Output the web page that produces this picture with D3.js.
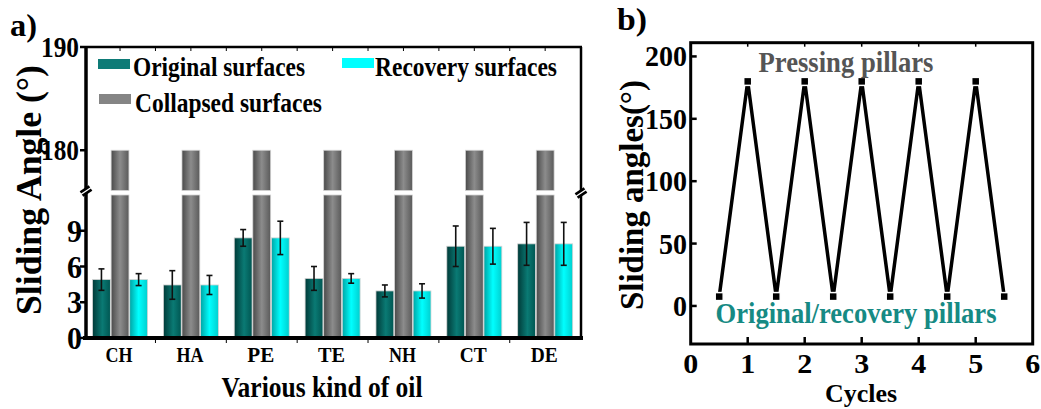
<!DOCTYPE html>
<html>
<head>
<meta charset="utf-8">
<script src="https://cdn.jsdelivr.net/npm/d3@7"></script>
<style>
  body { margin: 0; background: #fff; }
</style>
</head>
<body>
<svg id="chart" width="1041" height="409"></svg>
<script>
"use strict";

// ---- data (panel a) ----
const oils = ["CH", "HA", "PE", "TE", "NH", "CT", "DE"];
const originalMean = [4.9, 4.45, 8.4, 5.0, 3.95, 7.7, 7.9];
const originalErr = [0.9, 1.2, 0.7, 1.0, 0.5, 1.7, 1.8];
const collapsedMean = [180, 180, 180, 180, 180, 180, 180];
const recoveryMean = [4.9, 4.45, 8.4, 5.0, 3.95, 7.7, 7.9];
const recoveryErr = [0.5, 0.8, 1.4, 0.4, 0.6, 1.5, 1.8];
const lowTicks = [0, 3, 6, 9];
const highTicks = [180, 190];

// ---- data (panel b) ----
const cycleX = [0.5, 1, 1.5, 2, 2.5, 3, 3.5, 4, 4.5, 5, 5.5];
const cycleAngle = [7.5, 180, 7.5, 180, 7.5, 180, 7.5, 180, 7.5, 180, 7.5];
const cycleXTicks = [0, 1, 2, 3, 4, 5, 6];
const cycleYTicks = [0, 50, 100, 150, 200];

const FONT = "'Liberation Serif', 'Times New Roman', Tinos, 'DejaVu Serif', serif";
const svg = d3.select("#chart");

// text helper: fixed width through textLength (the picture is a bit squeezed)
function txt(g, s, x, y, size, width, anchor, fill, rotate) {
  const t = g.append("text")
    .attr("font-family", FONT)
    .attr("font-weight", "bold")
    .attr("font-size", size)
    .attr("text-anchor", anchor || "start")
    .attr("fill", fill || "#000")
    .text(s);
  if (rotate) {
    t.attr("transform", "translate(" + x + "," + y + ") rotate(" + rotate + ")");
  } else {
    t.attr("x", x).attr("y", y);
  }
  if (width) t.attr("textLength", width).attr("lengthAdjust", "spacingAndGlyphs");
  return t;
}

// gradients for the bars
const defs = svg.append("defs");
function grad(id, stops) {
  const lg = defs.append("linearGradient").attr("id", id)
    .attr("x1", "0%").attr("x2", "100%").attr("y1", "0%").attr("y2", "0%");
  stops.forEach(function(s) {
    lg.append("stop").attr("offset", s[0]).attr("stop-color", s[1]);
  });
}
grad("gTeal", [["0%", "#003a38"], ["55%", "#0a7a74"], ["100%", "#005652"]]);
grad("gGray", [["0%", "#4a4a4a"], ["50%", "#8c8c8c"], ["100%", "#5a5a5a"]]);
grad("gCyan", [["0%", "#00a4a4"], ["50%", "#00ffff"], ["100%", "#00cfcf"]]);

const series = [
  { key: "original", label: "Original surfaces", values: originalMean, err: originalErr, fill: "url(#gTeal)", swatch: "#0e7b77" },
  { key: "collapsed", label: "Collapsed surfaces", values: collapsedMean, err: null, fill: "url(#gGray)", swatch: "#858585" },
  { key: "recovery", label: "Recovery surfaces", values: recoveryMean, err: recoveryErr, fill: "url(#gCyan)", swatch: "#00ffff" }
];

// ================= panel a =================
const a = svg.append("g");
const aLeft = 86, aRight = 581, aTop = 47, aBottom = 338;

const x = d3.scaleBand().domain(oils).range([84.6, 580.6]);
const xs = d3.scaleBand().domain(series.map(function(s) { return s.key; }))
  .range([-27.5, 27.5]).paddingInner(0.04);
const yLow = d3.scaleLinear().domain([0, 12]).range([aBottom, 195]);
const yHigh = d3.scaleLinear().domain([176.1, 190]).range([190.5, aTop]);

function yOf(v) { return v > yLow.domain()[1] ? yHigh(v) : yLow(v); }

series.forEach(function(s) {
  const g = a.append("g").attr("class", "bars-" + s.key);
  oils.forEach(function(o, i) {
    const v = s.values[i];
    const bx = x(o) + x.bandwidth() / 2 + xs(s.key);
    const lowTop = yLow(Math.min(v, yLow.domain()[1]));
    g.append("rect")
      .attr("x", bx).attr("y", lowTop)
      .attr("width", xs.bandwidth()).attr("height", yLow(0) - lowTop)
      .attr("fill", s.fill).attr("stroke", "#d4d4d4").attr("stroke-width", 0.8);
    if (v > yLow.domain()[1]) {
      g.append("rect")
        .attr("x", bx).attr("y", yHigh(v))
        .attr("width", xs.bandwidth()).attr("height", yHigh(yHigh.domain()[0]) - yHigh(v))
        .attr("fill", s.fill).attr("stroke", "#d4d4d4").attr("stroke-width", 0.8);
    }
    if (s.err) {
      const cx = bx + xs.bandwidth() / 2;
      const e = s.err[i];
      g.append("line").attr("x1", cx).attr("x2", cx)
        .attr("y1", yOf(v + e)).attr("y2", yOf(v - e))
        .attr("stroke", "#111").attr("stroke-width", 1.6);
      [v + e, v - e].forEach(function(w) {
        g.append("line").attr("x1", cx - 3).attr("x2", cx + 3)
          .attr("y1", yOf(w)).attr("y2", yOf(w))
          .attr("stroke", "#111").attr("stroke-width", 1.6);
      });
    }
  });
});

// frame
a.append("line").attr("x1", aLeft).attr("x2", aRight + 1).attr("y1", aTop).attr("y2", aTop)
  .attr("stroke", "#000").attr("stroke-width", 2.5);
a.append("line").attr("x1", aRight).attr("x2", aRight).attr("y1", aTop).attr("y2", aBottom)
  .attr("stroke", "#000").attr("stroke-width", 2.5);
a.append("line").attr("x1", aLeft).attr("x2", aLeft).attr("y1", aTop - 1).attr("y2", aBottom)
  .attr("stroke", "#000").attr("stroke-width", 3.5);
a.append("line").attr("x1", aLeft - 3).attr("x2", aRight + 2).attr("y1", aBottom).attr("y2", aBottom)
  .attr("stroke", "#000").attr("stroke-width", 4);

// top minor ticks (every half band) and bottom ticks on band edges
d3.range(1, oils.length * 2).forEach(function(k) {
  const tx = x.range()[0] + k * x.bandwidth() / 2;
  a.append("line").attr("x1", tx).attr("x2", tx).attr("y1", aTop).attr("y2", aTop + 4)
    .attr("stroke", "#000").attr("stroke-width", 1);
});
d3.range(1, oils.length).forEach(function(k) {
  const tx = x.range()[0] + k * x.bandwidth();
  a.append("line").attr("x1", tx).attr("x2", tx).attr("y1", aBottom).attr("y2", aBottom + 5)
    .attr("stroke", "#000").attr("stroke-width", 1);
});

// axis break marks
function breakMark(bx, by) {
  a.append("line").attr("x1", bx - 4.5).attr("y1", by + 3).attr("x2", bx + 4.5).attr("y2", by - 3)
    .attr("stroke", "#000").attr("stroke-width", 6.5);
  a.append("line").attr("x1", bx - 6).attr("y1", by + 4).attr("x2", bx + 6).attr("y2", by - 4)
    .attr("stroke", "#fff").attr("stroke-width", 1.4);
}
breakMark(aLeft, 191);
breakMark(aRight, 193);

// y ticks
lowTicks.forEach(function(t) {
  a.append("line").attr("x1", aLeft - 6).attr("x2", aLeft).attr("y1", yLow(t)).attr("y2", yLow(t))
    .attr("stroke", "#000").attr("stroke-width", 2.5);
  txt(a, String(t), 82, yLow(t) + 11, 31, 15, "end");
});
highTicks.forEach(function(t) {
  a.append("line").attr("x1", aLeft - 6).attr("x2", aLeft).attr("y1", yHigh(t)).attr("y2", yHigh(t))
    .attr("stroke", "#000").attr("stroke-width", 2.5);
  txt(a, String(t), 79, yHigh(t) + 10, 29, 38, "end");
});

// x labels
oils.forEach(function(o) {
  txt(a, o, x(o) + x.bandwidth() / 2 - 1, 362, 22, o.length * 13.5, "middle");
});

// legend
const legendPos = [
  { sx: 98, sy: 59, tx: 133, ty: 76, w: 172 },
  { sx: 99, sy: 94, tx: 135, ty: 112, w: 187 },
  { sx: 342, sy: 58, tx: 375, ty: 76, w: 182 }
];
series.forEach(function(s, i) {
  const p = legendPos[i];
  a.append("rect").attr("x", p.sx).attr("y", p.sy).attr("width", 32).attr("height", 10)
    .attr("fill", s.swatch);
  txt(a, s.label, p.tx, p.ty, 27, p.w, "start");
});

// titles
txt(a, "a)", 10, 36, 31, 27);
txt(a, "Various kind of oil", 322, 397, 29, 201, "middle");
txt(a, "Sliding Angle (\u00b0)", 41, 190, 35, 250, "middle", "#000", -90);

// ================= panel b =================
const b = svg.append("g");
const bl = 690.7, br = 1032.7, bt = 42.7, bb = 344;
const xb = d3.scaleLinear().domain([0, 6]).range([bl, br]);
const yb = d3.scaleLinear().domain([-30.5, 211]).range([bb, bt]);

b.append("rect").attr("x", bl).attr("y", bt).attr("width", br - bl).attr("height", bb - bt)
  .attr("fill", "none").attr("stroke", "#000").attr("stroke-width", 3);

cycleXTicks.slice(1, -1).forEach(function(t) {
  b.append("line").attr("x1", xb(t)).attr("x2", xb(t)).attr("y1", bb).attr("y2", bb - 7)
    .attr("stroke", "#000").attr("stroke-width", 2.5);
  b.append("line").attr("x1", xb(t)).attr("x2", xb(t)).attr("y1", bt).attr("y2", bt + 4)
    .attr("stroke", "#000").attr("stroke-width", 1.5);
});
cycleXTicks.forEach(function(t) {
  txt(b, String(t), xb(t), 373, 27, 15, "middle");
});
cycleYTicks.forEach(function(t) {
  b.append("line").attr("x1", bl).attr("x2", bl + 6).attr("y1", yb(t)).attr("y2", yb(t))
    .attr("stroke", "#000").attr("stroke-width", 2.5);
  txt(b, String(t), 687, yb(t) + 10, 29, String(t).length * 14, "end");
});

const pts = cycleX.map(function(c, i) { return [c, cycleAngle[i]]; });
b.append("path").datum(pts)
  .attr("fill", "none").attr("stroke", "#000").attr("stroke-width", 3.5)
  .attr("stroke-linejoin", "miter")
  .attr("d", d3.line().x(function(d) { return xb(d[0]); }).y(function(d) { return yb(d[1]); }));
b.selectAll("rect.pt").data(pts).enter().append("rect")
  .attr("class", "pt")
  .attr("x", function(d) { return xb(d[0]) - 4; })
  .attr("y", function(d) { return yb(d[1]) - 4; })
  .attr("width", 8).attr("height", 8)
  .attr("fill", "#000").attr("stroke", "#fff").attr("stroke-width", 1.5);

txt(b, "Pressing pillars", 846, 72, 29, 175, "middle", "#555");
txt(b, "Original/recovery pillars", 856, 323, 29, 281, "middle", "#168a84");
txt(b, "b)", 617, 30, 31, 30);
txt(b, "Cycles", 861, 402, 26, 72, "middle");
txt(b, "Sliding angles(\u00b0)", 643, 195, 33, 230, "middle", "#000", -90);
</script>
</body>
</html>
